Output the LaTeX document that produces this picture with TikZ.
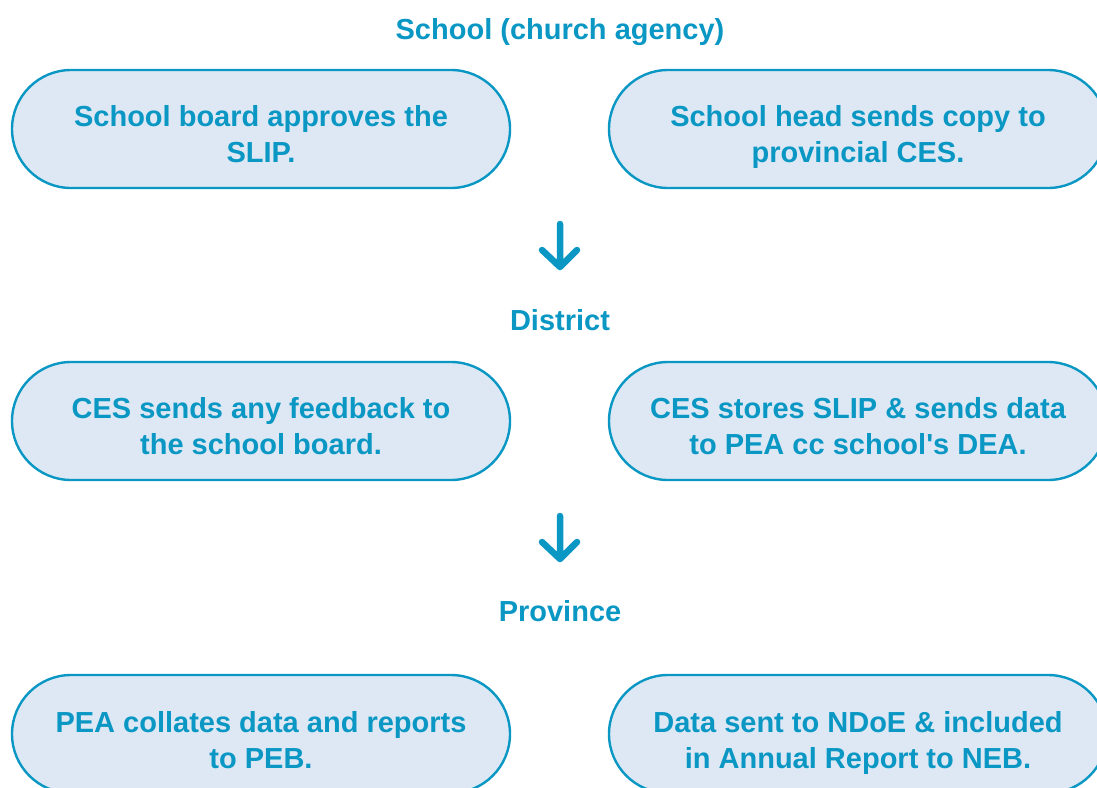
\documentclass[tikz,border=0pt]{standalone}
\usepackage{fontspec}
\setmainfont{Liberation Sans}
\definecolor{cblue}{HTML}{0A97C4}
\definecolor{pfill}{HTML}{DDE8F4}
\begin{document}
\begin{tikzpicture}[x=1pt,y=-1pt,
  pill/.style={draw=cblue,line width=2.4pt,fill=pfill,rounded corners=59pt,
    minimum width=498pt,minimum height=118pt,inner sep=0pt},
  ptext/.style={text=cblue,font=\fontsize{29}{36}\selectfont\bfseries,align=center,inner sep=0pt},
  head/.style={text=cblue,font=\fontsize{29}{33}\selectfont\bfseries,anchor=base},
  dnarrow/.style={draw=cblue,line width=6.5pt,line cap=round,line join=round}]
\useasboundingbox (0,0) rectangle (1097,787);
\clip (0,0) rectangle (1097,787);
\node[head] (h1) at (560,39.5) {School (church agency)};
\node[head] (h2) at (560,330.5) {District};
\node[head] (h3) at (560,621.5) {Province};
\node[pill] (a1) at (261,129) {};
\node[pill] (a2) at (858,129) {};
\node[pill] (b1) at (261,421) {};
\node[pill] (b2) at (858,421) {};
\node[pill] (c1) at (261,734) {};
\node[pill] (c2) at (858,734) {};
\node[ptext] (ta1) at ([yshift=-8.3pt]a1.center) {\strut School board approves the\\\strut SLIP.};
\node[ptext] (ta2) at ([yshift=-8.3pt]a2.center) {\strut School head sends copy to\\\strut provincial CES.};
\node[ptext] (tb1) at ([yshift=-8.3pt]b1.center) {\strut CES sends any feedback to\\\strut the school board.};
\node[ptext] (tb2) at ([yshift=-8.3pt]b2.center) {\strut CES stores SLIP \& sends data\\\strut to PEA cc school\textquotesingle s DEA.};
\node[ptext] (tc1) at ([yshift=-9pt]c1.center) {\strut PEA collates data and reports\\\strut to PEB.};
\node[ptext] (tc2) at ([yshift=-9pt]c2.center) {\strut Data sent to NDoE \& included\\\strut in Annual Report to NEB.};
\coordinate (t1) at (560,224); \coordinate (p1) at (560,267);
\draw[dnarrow] (t1) -- (p1) (542,250) -- (p1) -- (577,250);
\coordinate (t2) at (560,516); \coordinate (p2) at (560,559);
\draw[dnarrow] (t2) -- (p2) (542,542) -- (p2) -- (577,542);
\end{tikzpicture}
\end{document}
